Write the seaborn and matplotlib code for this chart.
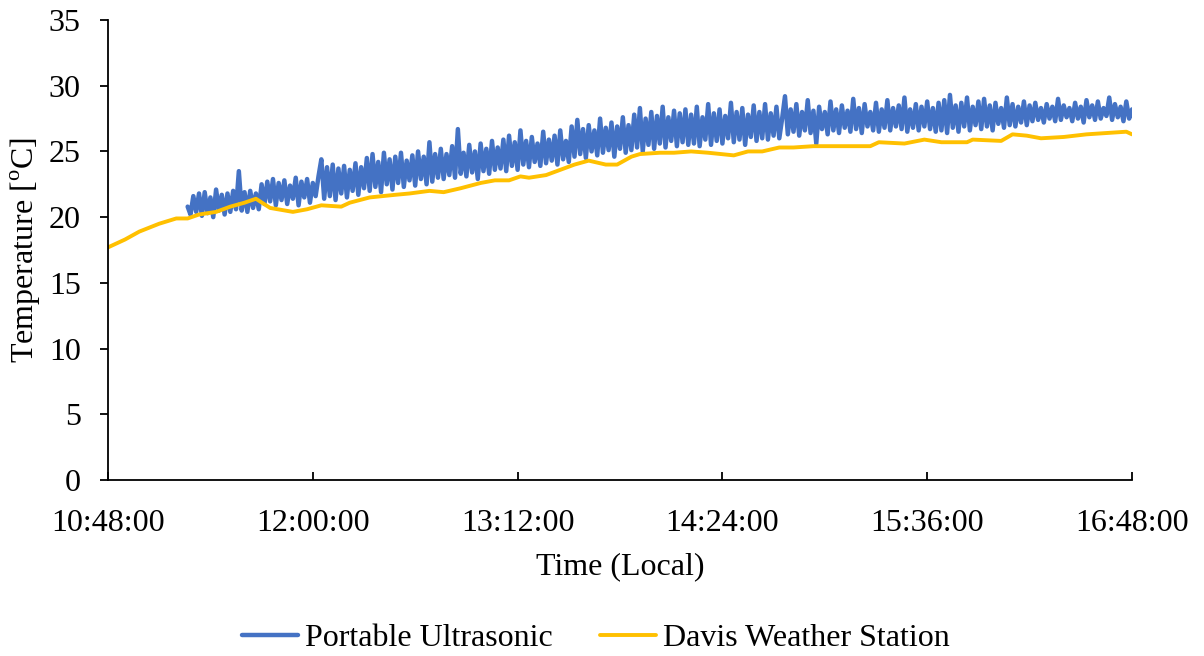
import numpy as np
import pandas as pd
import matplotlib
matplotlib.use("Agg")
import matplotlib.pyplot as plt
import seaborn as sns

# ---------------- data ----------------
tick_minutes = [0, 72, 144, 216, 288, 360]
tick_labels = ["10:48:00", "12:00:00", "13:12:00", "14:24:00", "15:36:00", "16:48:00"]

# Davis Weather Station (minutes after 10:48, deg C)
davis_min = [0, 6, 11, 18, 24, 28, 32, 38, 43, 48, 52, 57, 65, 70, 75, 82, 85, 92,
             101, 106, 113, 118, 124, 131, 136, 141, 145, 148, 154, 159, 164, 169,
             175, 179, 184, 187, 194, 199, 205, 211, 220, 225, 230, 236, 241, 248,
             268, 271, 280, 287, 293, 302, 304, 314, 318, 323, 328, 336, 344, 351,
             358, 360]
davis_temp = [17.7, 18.3, 18.9, 19.5, 19.9, 19.9, 20.2, 20.4, 20.8, 21.1, 21.4, 20.7,
              20.4, 20.6, 20.9, 20.8, 21.1, 21.5, 21.7, 21.8, 22.0, 21.9, 22.2, 22.6,
              22.8, 22.8, 23.1, 23.0, 23.2, 23.6, 24.0, 24.3, 24.0, 24.0, 24.6, 24.8,
              24.9, 24.9, 25.0, 24.9, 24.7, 25.0, 25.0, 25.3, 25.3, 25.4, 25.4, 25.7,
              25.6, 25.9, 25.7, 25.7, 25.9, 25.8, 26.3, 26.2, 26.0, 26.1, 26.3, 26.4,
              26.5, 26.3]

# Portable Ultrasonic: one reading per minute from minute 28 (11:16) to 360 (16:48)
ultra_start_min = 28
ultra_a = [20.8, 20.2, 21.6, 20.4, 21.8, 20.1, 21.9, 20.3, 21.5, 20.0, 22.1, 20.5, 21.7,
           20.2, 21.8, 20.4, 22.0, 20.6, 23.5, 20.5, 21.9, 20.4, 22.0, 20.7, 21.8, 20.6, 22.5]
ultra_b = [21.0, 22.7, 21.2, 22.9, 20.9, 22.6, 21.3, 22.8, 21.0, 22.4, 21.4, 23.0, 20.9,
           22.7, 21.5, 22.9, 21.1, 22.6, 21.6, 23.1]
ultra_c = [24.4, 21.4, 23.8, 21.6, 24.0, 21.3, 23.7, 21.8, 23.9, 21.5, 23.6, 22.0, 24.1,
           21.7, 23.8, 22.2]
ultra_d = [24.5, 22.0, 24.8, 22.3, 24.2, 21.9, 24.9, 22.5, 24.4, 22.1, 24.6, 22.6, 24.9,
           22.3, 24.3, 22.8, 24.7, 22.4, 25.0, 22.9, 24.6, 22.5, 25.7, 22.7, 24.8, 23.0]
ultra_e = [25.2, 22.9, 24.8, 23.2, 25.4, 23.0, 26.7, 23.3, 24.9, 23.1, 25.5, 23.4, 25.0,
           22.9, 25.6, 23.5, 25.2, 23.3, 25.8, 23.6, 25.3]
ultra_f = [23.7, 25.9, 23.5, 26.2, 23.9, 25.7, 23.6, 26.6, 24.0, 25.8, 23.8, 26.1, 24.2,
           25.6, 23.9, 26.5, 24.1, 25.9, 24.3, 26.2, 24.0, 26.6, 24.4, 25.8, 24.2]
ultra_g = [26.9, 24.6, 27.4, 24.8, 26.7, 24.5, 27.0, 25.0, 26.6, 24.7, 27.5, 24.9, 26.8,
           25.1, 27.2, 24.6, 26.9, 25.2, 27.6, 24.9, 27.0]
ultra_h = [25.1, 27.8, 25.3, 28.3, 25.0, 27.5, 25.5, 28.0, 25.2, 27.7, 25.6, 28.4, 25.3,
           27.6, 25.8, 28.1, 25.4, 27.9, 25.7, 28.2, 25.5]
ultra_i = [27.8, 25.6, 28.4, 25.4, 27.6, 25.9, 28.6, 25.5, 27.9, 25.8, 28.2, 25.6, 27.7,
           26.0, 28.7, 25.7, 28.0, 25.9, 28.3, 25.5, 27.8, 26.1, 28.5, 25.8, 28.0, 26.0,
           28.6, 25.9, 27.9, 26.2, 28.4, 26.0]
ultra_j = [27.5, 29.2, 26.3, 28.2, 26.5, 28.6, 26.2, 28.0, 26.6, 28.9,
           26.4, 28.1, 25.6, 28.4, 26.7, 28.0, 26.3, 28.8, 26.6, 28.2,
           26.4, 28.5, 26.8, 28.1, 26.5, 29.0, 26.7, 28.3, 26.4, 28.6,
           26.9, 28.0, 26.6, 28.7, 26.5, 28.2, 26.8, 28.9, 26.6, 28.3,
           26.9, 28.5, 26.7, 29.1, 26.5, 28.2, 26.8, 28.6, 26.6, 28.4,
           26.9, 28.8, 26.7, 28.3, 26.5, 28.7]
ultra_k = [26.6, 28.9, 26.4, 29.3, 26.8, 28.5, 26.5, 28.7, 26.9, 29.1, 26.6, 28.4, 27.0,
           28.8, 26.7, 29.0, 26.9, 28.5, 26.6, 28.7, 27.1, 28.3, 26.8, 29.1, 27.0, 28.6,
           26.9, 28.4, 27.2, 28.8, 27.0]
ultra_l = [28.5, 27.3, 28.7, 27.4, 28.3, 27.2, 28.6, 27.5, 28.4, 27.3, 29.0, 27.4, 28.5,
           27.6, 28.3, 27.3, 28.7, 27.5, 28.4, 27.2, 28.9, 27.6, 28.5, 27.4, 28.8, 27.5,
           28.3, 27.7, 29.1, 27.4, 28.6, 27.6, 28.4, 27.3, 28.8, 27.5, 28.2]

ultra_temp = (ultra_a + ultra_b + ultra_c + ultra_d + ultra_e + ultra_f + ultra_g +
              ultra_h + ultra_i + ultra_j + ultra_k + ultra_l)
ultra_min = list(range(ultra_start_min, ultra_start_min + len(ultra_temp)))

# ---------------- plotting ----------------
sns.set_style("white")
plt.rcParams["font.family"] = ["Liberation Serif", "DejaVu Serif"]
plt.rcParams["mathtext.fontset"] = "custom"
plt.rcParams["mathtext.rm"] = "Liberation Serif"

FS = 23

fig = plt.figure(figsize=(12.04, 6.56), dpi=100)
ax = fig.add_axes([108 / 1204, 1 - 480 / 656, (1132 - 108) / 1204, 460 / 656])

df_u = pd.DataFrame({"t": ultra_min, "T": ultra_temp})
df_d = pd.DataFrame({"t": davis_min, "T": davis_temp})

sns.lineplot(data=df_u, x="t", y="T", ax=ax, color="#4472C4", linewidth=3.2,
             label="Portable Ultrasonic", sort=False, estimator=None)
sns.lineplot(data=df_d, x="t", y="T", ax=ax, color="#FFC000", linewidth=2.8,
             label="Davis Weather Station", sort=False, estimator=None)

ax.set_xlim(0, 360)
ax.set_ylim(0, 35)
ax.set_xticks(tick_minutes)
ax.set_xticklabels(tick_labels)
ax.set_yticks(range(0, 36, 5))

for s in ["top", "right"]:
    ax.spines[s].set_visible(False)
for s in ["left", "bottom"]:
    ax.spines[s].set_color("black")
    ax.spines[s].set_linewidth(1.3)

ax.tick_params(axis="y", direction="out", length=5.5, width=1.3, colors="black",
               labelsize=FS, pad=14, left=True)
ax.tick_params(axis="x", direction="in", length=6, width=1.3, colors="black",
               labelsize=FS, pad=21, bottom=True)

ax.set_xlabel("Time (Local)", fontsize=FS, labelpad=10, color="black")
ax.set_ylabel("Temperature [$^{\\mathrm{o}}$C]", fontsize=FS, labelpad=4.5, color="black")

ax.get_legend().remove()
handles, labels = ax.get_legend_handles_labels()
fig.legend(handles, labels, loc="center", bbox_to_anchor=(0.495, 1 - 638 / 656),
           ncol=2, frameon=False, fontsize=FS, handlelength=1.75,
           handletextpad=0.22, columnspacing=1.5, labelcolor="black")

fig.savefig("out.png", dpi=100)
